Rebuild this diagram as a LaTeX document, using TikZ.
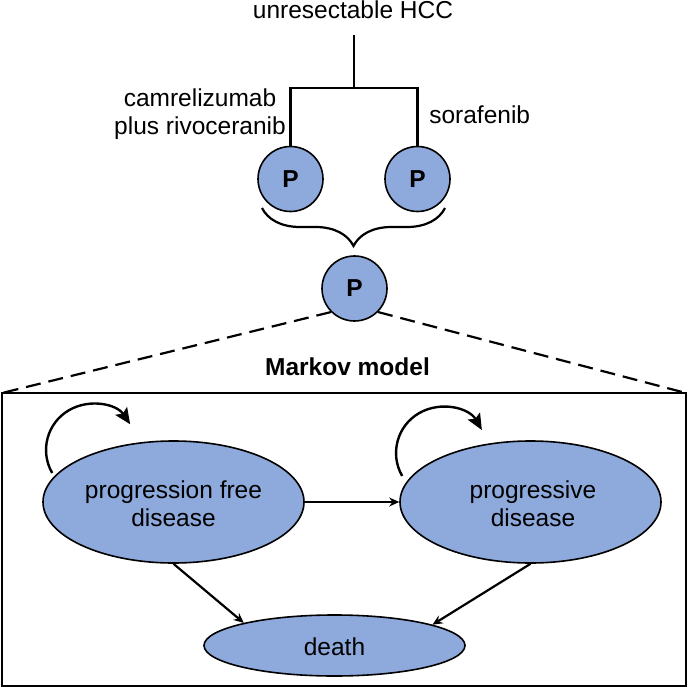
\documentclass[tikz,border=0pt]{standalone}
\usepackage{fontspec}
\setmainfont{Liberation Sans}
\usetikzlibrary{shapes.geometric,arrows.meta,decorations.pathreplacing}
\definecolor{nodefill}{HTML}{8EA9DB}
\begin{document}
\begin{tikzpicture}[x=1pt,y=-1pt,
  txt/.style={font=\fontsize{24.5}{28.5}\selectfont, inner sep=0pt},
  pnode/.style={circle, draw, line width=1.6pt, fill=nodefill, minimum size=65pt, inner sep=0pt, font=\fontsize{24.5}{28}\selectfont\bfseries},
  state/.style={ellipse, draw, line width=1.6pt, fill=nodefill, inner sep=0pt},
  conn/.style={line width=2.2pt},
  arr/.style={line width=2.2pt, -{Stealth[length=10pt,width=9pt]}},
  loopar/.style={line width=2.4pt, -{Stealth[length=16pt,width=14pt,inset=3pt]}},
  dashconn/.style={line width=2.2pt, dash pattern=on 15pt off 8pt}
]
\useasboundingbox (0,0) rectangle (688,687);
% top of tree
\node[txt, anchor=base] (hcc) at (353,18.3) {unresectable HCC};
\coordinate (stem) at (354,35);
\coordinate (junc) at (354,88);
\node[pnode] (pl) at (290.5,179) {P};
\node[pnode] (pr) at (417.5,179) {P};
\draw[conn] (stem) -- (junc);
\draw[conn] (pl.north) |- (junc) -| (pr.north);
\node[txt, anchor=base, align=center] (arm1) at (200,135) {camrelizumab\\plus rivoceranib};
\node[txt, anchor=base] (arm2) at (479.7,123.3) {sorafenib};
% brace
\coordinate (braceR) at (445,208);
\coordinate (braceL) at (262,208);
\draw[conn, decorate, decoration={brace, amplitude=38pt}] (braceR) -- (braceL);
% merged P
\node[pnode] (pm) at (354.5,288.5) {P};
\coordinate (bl) at (2,393);
\coordinate (br) at (686,393);
\coordinate (brb) at (686,686);
\draw[dashconn] (pm.-135) -- (bl);
\draw[dashconn] (pm.-45) -- (br);
\node[txt, anchor=base, font=\fontsize{24.5}{28}\selectfont\bfseries] (mm) at (347.5,375) {Markov model};
\draw[line width=2.2pt] (bl) rectangle (brb);
% self loops
\draw[loopar] (52.2,473) arc[start angle=150,end angle=326,radius=46];
\draw[loopar] (402.2,476) arc[start angle=150,end angle=330,radius=46];
% states
\node[state, minimum width=261pt, minimum height=122pt] (pfd) at (173.5,502) {};
\node[state, minimum width=261pt, minimum height=122pt] (pd) at (530.5,502) {};
\node[state, minimum width=261pt, minimum height=61pt] (death) at (334.5,645.5) {};
\node[txt, anchor=base, align=center] (pfdt) at (173.5,526.7) {progression free\\disease};
\node[txt, anchor=base, align=center] (pdt) at (533,526.7) {progressive\\disease};
\node[txt, anchor=base] (deatht) at (334.5,655) {death};
% transitions
\draw[arr] (pfd) -- (pd);
\draw[arr] (pfd.south) -- (death.166.7);
\draw[arr] (pd.south) -- (death.12.8);
\end{tikzpicture}
\end{document}
